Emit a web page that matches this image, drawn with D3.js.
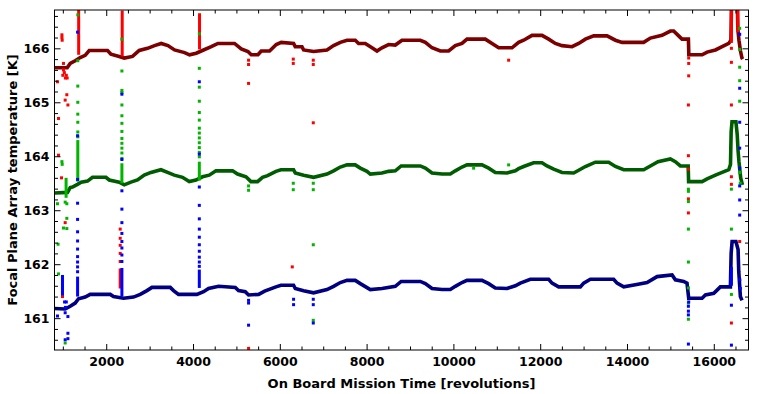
<!DOCTYPE html>
<html>
<head>
<meta charset="utf-8">
<script src="https://cdn.jsdelivr.net/npm/d3@7"></script>
<style>
  body { margin: 0; background: #fff; }
  svg text { font-family: "DejaVu Sans", sans-serif; font-weight: bold; }
</style>
</head>
<body>
<svg id="chart" width="773" height="394"></svg>
<script>
// --- data: [revolution, temperature K] ---
var redTrend = [[808,165.64],[1100,165.64],[1170,165.72],[1285,165.77],[1400,165.83],[1515,165.87],[1608,165.96],[2030,165.96],[2108,165.89],[2299,165.85],[2415,165.82],[2606,165.85],[2760,165.96],[2952,166.0],[3113,166.05],[3267,166.09],[3422,166.05],[3574,165.97],[3805,165.92],[3920,165.88],[4074,165.91],[4190,165.95],[4420,166.03],[4574,166.09],[4957,166.09],[5111,165.99],[5266,165.94],[5342,165.88],[5496,165.88],[5572,165.95],[5764,165.95],[5918,166.07],[6033,166.11],[6317,166.09],[6356,166.03],[6510,166.03],[6548,165.97],[6778,165.94],[7087,165.97],[7239,166.05],[7394,166.11],[7548,166.15],[7739,166.15],[7815,166.09],[7970,166.09],[8124,166.01],[8239,165.95],[8354,166.01],[8507,166.07],[8661,166.06],[8815,166.15],[9237,166.15],[9353,166.11],[9507,166.01],[9699,165.95],[9890,165.95],[10044,166.05],[10198,166.09],[10313,166.17],[10735,166.17],[10890,166.09],[11043,166.01],[11351,166.01],[11503,166.11],[11619,166.15],[11812,166.24],[12042,166.24],[12195,166.17],[12349,166.09],[12503,166.05],[12734,166.03],[12887,166.09],[13041,166.17],[13233,166.23],[13541,166.23],[13733,166.15],[13887,166.11],[14384,166.11],[14539,166.19],[14807,166.24],[14999,166.32],[15075,166.32],[15191,166.23],[15268,166.17],[15415,166.17],[15425,165.88],[15731,165.88],[15846,165.93],[16038,165.97],[16192,166.03],[16345,166.09],[16395,166.15],[16410,166.9],[16540,166.9],[16555,166.35],[16580,166.15],[16615,165.95],[16650,165.82],[16665,165.80]];

var greenTrend = [[808,163.32],[1107,163.33],[1170,163.42],[1223,163.43],[1338,163.48],[1423,163.52],[1569,163.54],[1684,163.61],[1993,163.61],[2069,163.56],[2299,163.52],[2415,163.47],[2569,163.52],[2721,163.56],[2876,163.65],[3030,163.70],[3261,163.75],[3413,163.70],[3567,163.65],[3758,163.61],[3913,163.53],[4067,163.56],[4219,163.62],[4374,163.65],[4528,163.73],[4911,163.73],[5026,163.67],[5220,163.62],[5335,163.53],[5487,163.53],[5602,163.61],[5718,163.64],[5911,163.72],[6026,163.75],[6317,163.75],[6356,163.69],[6548,163.65],[6778,163.61],[7087,163.67],[7239,163.73],[7394,163.80],[7548,163.84],[7739,163.84],[7855,163.78],[8008,163.72],[8085,163.67],[8354,163.69],[8507,163.72],[8661,163.73],[8796,163.82],[9237,163.82],[9353,163.78],[9507,163.69],[9737,163.67],[9929,163.67],[10044,163.73],[10198,163.80],[10313,163.84],[10659,163.84],[10812,163.78],[10966,163.70],[11235,163.69],[11427,163.73],[11503,163.77],[11619,163.81],[11849,163.88],[12042,163.88],[12157,163.82],[12311,163.76],[12503,163.70],[12772,163.69],[12887,163.74],[13041,163.81],[13271,163.89],[13578,163.89],[13733,163.81],[13925,163.75],[14384,163.75],[14539,163.82],[14715,163.90],[14999,163.95],[15114,163.90],[15230,163.82],[15410,163.82],[15420,163.53],[15731,163.53],[15846,163.58],[16038,163.65],[16192,163.70],[16345,163.75],[16385,163.85],[16400,164.45],[16420,164.64],[16510,164.64],[16540,164.40],[16560,164.10],[16580,163.90],[16620,163.60],[16660,163.47]];

var blueTrend = [[808,161.18],[1054,161.17],[1170,161.22],[1285,161.28],[1361,161.36],[1515,161.39],[1631,161.44],[2092,161.44],[2168,161.40],[2399,161.37],[2629,161.39],[2784,161.44],[2938,161.51],[3053,161.57],[3475,161.57],[3551,161.51],[3666,161.44],[4090,161.44],[4243,161.49],[4358,161.55],[4589,161.59],[4973,161.57],[5049,161.51],[5204,161.49],[5280,161.43],[5512,161.44],[5650,161.50],[5911,161.58],[6026,161.61],[6317,161.61],[6356,161.55],[6548,161.51],[6778,161.47],[7087,161.53],[7239,161.59],[7394,161.66],[7548,161.70],[7739,161.70],[7855,161.64],[8085,161.53],[8354,161.55],[8661,161.59],[8796,161.68],[9237,161.68],[9353,161.64],[9507,161.55],[9737,161.53],[9929,161.53],[10044,161.59],[10198,161.66],[10313,161.70],[10659,161.70],[10812,161.64],[10966,161.56],[11235,161.55],[11427,161.60],[11542,161.65],[11773,161.72],[12195,161.72],[12273,161.65],[12425,161.58],[12925,161.58],[13002,161.65],[13156,161.72],[13693,161.72],[13771,161.65],[13925,161.58],[14193,161.62],[14463,161.66],[14693,161.77],[15039,161.80],[15115,161.71],[15306,161.68],[15383,161.65],[15422,161.37],[15730,161.37],[15807,161.43],[16000,161.46],[16152,161.58],[16383,161.58],[16400,162.2],[16422,162.42],[16510,162.42],[16560,162.27],[16575,161.87],[16613,161.40],[16650,161.33]];

// dense vertical runs of outliers: [revolution, low K, high K]
var redRuns = [[1365,165.88,166.72],[2368,165.85,166.7],[2322,161.55,161.92],[4150,165.98,166.65],[16406,166.1,166.8],[16553,166.3,166.8]];
var greenRuns = [[1345,163.53,164.3],[2361,163.5,163.87],[4145,163.55,163.9],[1075,163.23,163.6]];
var blueRuns = [[1340,161.4,161.77],[2361,161.4,161.93],[4145,161.56,161.9],[992,161.42,161.8],[16406,161.6,161.95]];

// single outliers: [revolution, K]
var redPoints = [[877,165.38],[900,164.70],[900,164.02],[979,166.25],[979,166.2],[985,166.15],[1015,165.72],[1015,165.6],[1035,165.55],[1054,165.04],[1092,165.14],[1117,164.95],[1054,162.77],[992,161.4],[1000,165.5],[1060,165.45],[1080,165.5],[1100,165.45],[970,163.6],
  [2322,162.65],[2322,162.48],[2322,162.35],[2322,162.2],[2322,162.05],
  [5280,165.35],[5280,160.44],[5280,165.70],[5280,165.78],[6310,165.72],[6310,165.8],[6771,165.70],[6771,165.78],[6771,164.62],[6287,161.95],[11273,165.78],
  [15422,165.82],[15422,165.72],[15422,165.49],[15415,164.95],[15415,164.01],[15415,163.76],[15415,163.21],[15415,162.95],
  [16406,166.0],[16406,165.74],[16406,164.95],[16406,163.62],[16406,163.48],[16406,160.91],[16597,162.42]];

var greenPoints = [[979,163.9],[985,163.85],[877,163.12],[890,162.37],[900,161.82],[1015,162.67],[1092,162.85],[1092,162.66],[992,161.56],[1054,160.54],[1054,163.15],[1092,163.12],
  [1345,166.62],[1345,165.77],[1345,165.3],[1345,165.0],[1345,164.78],[1345,164.63],[1345,164.45],[1345,164.36],
  [2361,166.17],[2361,165.58],[2361,165.22],[2361,165.18],[2361,164.95],[2361,164.75],[2361,164.61],[2361,164.46],[2361,164.33],[2361,164.24],[2361,164.15],[2361,164.06],[2361,163.96],
  [4145,166.27],[4145,165.63],[4145,165.28],[4145,165.02],[4145,164.81],[4145,164.67],[4145,164.52],[4145,164.43],[4145,164.34],[4145,164.25],[4145,164.16],[4145,164.07],[4145,163.99],
  [5280,163.37],[5280,163.45],[6310,163.38],[6310,163.5],[6771,163.38],[6771,163.5],[6771,162.36],[6771,160.96],[10466,163.78],[11273,163.84],
  [15415,163.39],[15415,163.35],[15415,163.16],[15415,162.65],[15415,162.04],[15415,161.56],[15415,161.28],[15415,160.98],
  [16406,163.39],[16406,162.65],[16406,161.72],[16406,161.65],[16406,161.44],[16597,166.37],[16597,165.98],[16597,165.65],[16597,165.40],[16597,165.02],[16600,163.7],[16610,163.5]];

var bluePoints = [[877,161.04],[1054,160.6],[1117,160.72],[1117,160.62],[1117,161.03],[1054,161.1],[1060,161.2],[1080,161.3],[1040,161.3],
  [1340,166.30],[1340,164.38],[1340,163.57],[1340,163.13],[1340,162.83],[1340,162.60],[1340,162.43],[1340,162.28],[1340,162.14],[1340,162.04],[1340,161.95],[1340,161.86],
  [2361,165.15],[2361,163.94],[2361,163.36],[2361,163.02],[2361,162.77],[2361,162.57],[2361,162.42],[2361,162.3],[2361,162.17],[2361,162.05],
  [4145,165.38],[4145,164.04],[4145,163.43],[4145,163.09],[4145,162.84],[4145,162.65],[4145,162.5],[4145,162.36],[4145,162.24],[4145,162.13],[4145,162.04],[4145,161.96],
  [5280,161.28],[5280,160.87],[5280,161.33],[6317,161.25],[6317,161.35],[6771,161.25],[6771,160.91],[6771,161.35],
  [15415,161.22],[15422,161.3],[15415,161.13],[15415,161.06],[15415,160.52],
  [16406,161.24],[16406,160.5],[16597,166.26],[16597,165.26],[16597,164.63],[16597,164.15],[16597,163.78],[16597,163.45],[16597,163.19],[16597,162.91],[16600,161.71],[16610,161.55]];

var xMajor = [2000, 4000, 6000, 8000, 10000, 12000, 14000, 16000];
var yMajor = [161, 162, 163, 164, 165, 166];

var series = [
    {trend: redTrend, runs: redRuns, points: redPoints, dark: '#7d0000', bright: '#ff0000'},
    {trend: greenTrend, runs: greenRuns, points: greenPoints, dark: '#005c00', bright: '#00b400'},
    {trend: blueTrend, runs: blueRuns, points: bluePoints, dark: '#000080', bright: '#0000ff'}
];

var svg = d3.select('#chart');
var plotLeft = 54.5, plotRight = 748.5, plotTop = 10, plotBottom = 350;

var x = d3.scaleLinear().domain([808, 16800]).range([plotLeft, plotRight]);
var y = d3.scaleLinear().domain([160.41, 166.71]).range([plotBottom, plotTop]);

svg.append('clipPath').attr('id', 'plot-clip')
    .append('rect').attr('x', plotLeft).attr('y', plotTop)
    .attr('width', plotRight - plotLeft).attr('height', plotBottom - plotTop);

var plot = svg.append('g').attr('clip-path', 'url(#plot-clip)');

var line = d3.line().x(function(d) { return x(d[0]); }).y(function(d) { return y(d[1]); });

series.forEach(function(s) {
    plot.append('path').datum(s.trend)
        .attr('d', line)
        .attr('fill', 'none')
        .attr('stroke', s.dark)
        .attr('stroke-width', 3.6);
});

series.forEach(function(s) {
    plot.selectAll(null).data(s.runs).enter().append('rect')
        .attr('x', function(d) { return x(d[0]) - 1.5; })
        .attr('y', function(d) { return y(d[2]); })
        .attr('width', 3)
        .attr('height', function(d) { return y(d[1]) - y(d[2]); })
        .attr('fill', s.bright);
    plot.selectAll(null).data(s.points).enter().append('rect')
        .attr('x', function(d) { return x(d[0]) - 1.5; })
        .attr('y', function(d) { return y(d[1]) - 1.5; })
        .attr('width', 3).attr('height', 3)
        .attr('fill', s.bright);
});

// axes: ticks point inward on all four sides, labels on bottom and left
var xMinor = d3.range(1000, 16800, 500).filter(function(v) { return v % 2000 !== 0; });
var yMinor = d3.range(160.6, 166.7, 0.2).filter(function(v) { return Math.abs(v - Math.round(v)) > 0.05; });

function addAxis(axis, tx, ty, labels) {
    var g = svg.append('g').attr('transform', 'translate(' + tx + ',' + ty + ')').call(axis);
    g.select('.domain').remove();
    g.selectAll('line').attr('stroke', '#000');
    if (!labels) g.selectAll('text').remove();
    return g;
}

var bx = addAxis(d3.axisBottom(x).tickValues(xMajor).tickSize(-6).tickPadding(7).tickFormat(d3.format('d')), 0, plotBottom, true);
bx.selectAll('text').attr('font-size', '12.5px').attr('fill', '#000');
addAxis(d3.axisBottom(x).tickValues(xMinor).tickSize(-3.5), 0, plotBottom, false);
addAxis(d3.axisTop(x).tickValues(xMajor).tickSize(-6), 0, plotTop, false);
addAxis(d3.axisTop(x).tickValues(xMinor).tickSize(-3.5), 0, plotTop, false);

var ly = addAxis(d3.axisLeft(y).tickValues(yMajor).tickSize(-6).tickPadding(5).tickFormat(d3.format('d')), plotLeft, 0, true);
ly.selectAll('text').attr('font-size', '12.5px').attr('fill', '#000');
addAxis(d3.axisLeft(y).tickValues(yMinor).tickSize(-3.5), plotLeft, 0, false);
addAxis(d3.axisRight(y).tickValues(yMajor).tickSize(-6), plotRight, 0, false);
addAxis(d3.axisRight(y).tickValues(yMinor).tickSize(-3.5), plotRight, 0, false);

svg.append('rect')
    .attr('x', plotLeft).attr('y', plotTop)
    .attr('width', plotRight - plotLeft).attr('height', plotBottom - plotTop)
    .attr('fill', 'none').attr('stroke', '#000').attr('stroke-width', 1);

svg.append('text')
    .attr('x', (plotLeft + plotRight) / 2).attr('y', 388)
    .attr('text-anchor', 'middle')
    .attr('font-size', '13px')
    .text('On Board Mission Time [revolutions]');

svg.append('text')
    .attr('transform', 'translate(17,' + (plotTop + plotBottom) / 2 + ') rotate(-90)')
    .attr('text-anchor', 'middle')
    .attr('font-size', '13px')
    .text('Focal Plane Array temperature [K]');
</script>
</body>
</html>
